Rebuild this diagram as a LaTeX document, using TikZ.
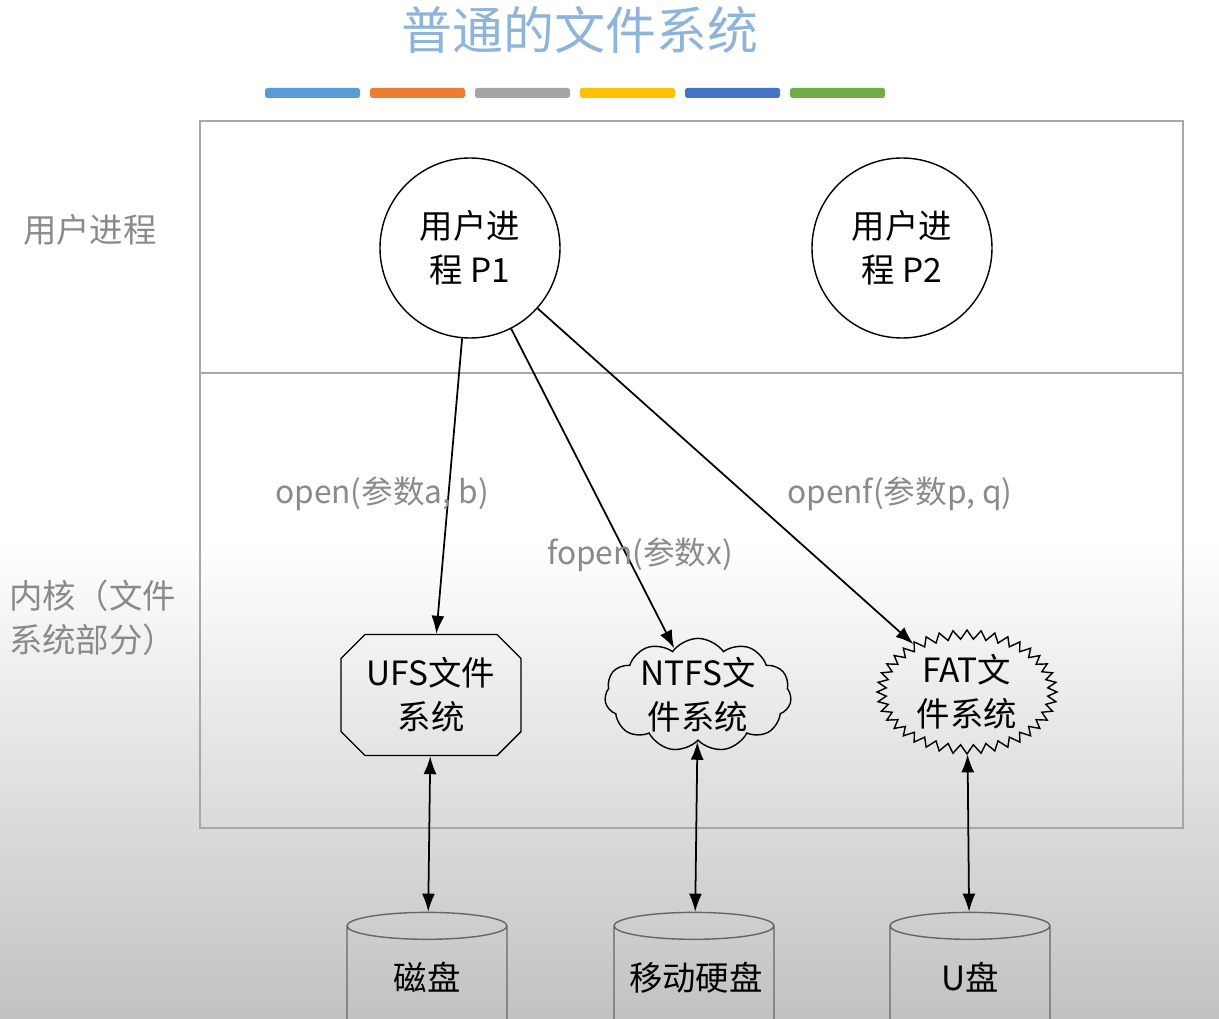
\documentclass[tikz,border=0pt]{standalone}
\usepackage{fontspec}
\setmainfont{Noto Sans CJK SC}
\usetikzlibrary{arrows.meta, shapes.geometric, shapes.misc, shapes.symbols}

\definecolor{titleblue}{HTML}{8FB4DB}
\definecolor{labelgray}{HTML}{8A8A8A}
\definecolor{framegray}{HTML}{A8A8A8}
\definecolor{barA}{HTML}{5B9BD5}
\definecolor{barB}{HTML}{ED7D31}
\definecolor{barC}{HTML}{A5A5A5}
\definecolor{barD}{HTML}{FFC000}
\definecolor{barE}{HTML}{4472C4}
\definecolor{barF}{HTML}{70AD47}

\begin{document}
\begin{tikzpicture}[x=0.2mm, y=-0.2mm,
  proc/.style={circle, draw, thick, minimum size=36mm, align=center,
               font=\fontsize{19}{25}\selectfont},
  fsbox/.style={draw, thick, align=center, inner sep=0pt,
                font=\fontsize{19}{25}\selectfont},
  disk/.style={cylinder, shape border rotate=90, draw=gray!80!black, thick,
               text width=26mm, align=center, text depth=12.4mm,
               minimum width=32mm, minimum height=34mm, aspect=0.19,
               font=\fontsize{19}{25}\selectfont},
  side/.style={text=labelgray, align=left, font=\fontsize{19}{25}\selectfont},
  call/.style={text=labelgray, font=\fontsize{18}{22}\selectfont},
  link/.style={line width=1pt, -{Latex[length=3.6mm, width=2.6mm]}},
  dlink/.style={line width=1pt, {Latex[length=3.6mm, width=2.6mm]}-{Latex[length=3.6mm, width=2.6mm]}}
]
\useasboundingbox (0,0) rectangle (1219,1019);
\shade[top color=white, bottom color=gray!48] (0,540) rectangle (1219,1019);

% title and colour bars
\node[text=titleblue, font=\fontsize{29}{32}\selectfont] (title) at (580,30) {普通的文件系统};
\foreach \c [count=\i] in {barA,barB,barC,barD,barE,barF}
  \fill[\c, rounded corners=1pt] (265+105*\i-105,88) rectangle ++(95,10);

% frame
\draw[framegray, thick] (200,121) rectangle (1183,828);
\draw[framegray, thick] (200,373) -- (1183,373);

\node[side] (userlbl) at (90,230) {用户进程};
\node[side, anchor=west] (kernlbl) at (3,618) {内核（文件\\系统部分）};

% processes
\node[proc] (p1) at (470,248) {用户进\\程 P1};
\node[proc] (p2) at (902,248) {用户进\\程 P2};

% file systems
\node[fsbox, chamfered rectangle, chamfered rectangle xsep=2.4mm,
      chamfered rectangle ysep=2.4mm, minimum width=36mm, minimum height=24.2mm]
      (ufs) at (431,695) {UFS文件\\系统};
\node[fsbox, cloud, cloud puffs=11, cloud puff arc=110, aspect=2,
      inner xsep=-0.8mm, inner ysep=-1.1mm] (ntfs) at (698,695) {NTFS文\\件系统};
\node[fsbox, starburst, starburst points=40, starburst point height=1.8mm,
      random starburst=0, minimum width=36mm, minimum height=22mm]
      (fat) at (967,692) {FAT文\\件系统};

% storage
\begin{scope}
\clip (0,0) rectangle (1219,1019);
\node[disk] (disk) at (427,1007) {磁盘};
\node[disk] (hdd) at (694,1007) {移动硬盘};
\node[disk] (usb) at (970,1007) {U盘};
\end{scope}

% calls
\draw[link] (p1) -- (ufs);
\draw[link] (p1) -- (ntfs);
\draw[link] (p1) -- (fat);
\node[call] (callA) at (382,494) {open(参数a, b)};
\node[call] (callB) at (640,555) {fopen(参数x)};
\node[call] (callC) at (900,494) {openf(参数p, q)};

\draw[dlink] (ufs) -- (disk);
\draw[dlink] (ntfs) -- (hdd);
\draw[dlink] (fat) -- (usb);
\end{tikzpicture}
\end{document}
